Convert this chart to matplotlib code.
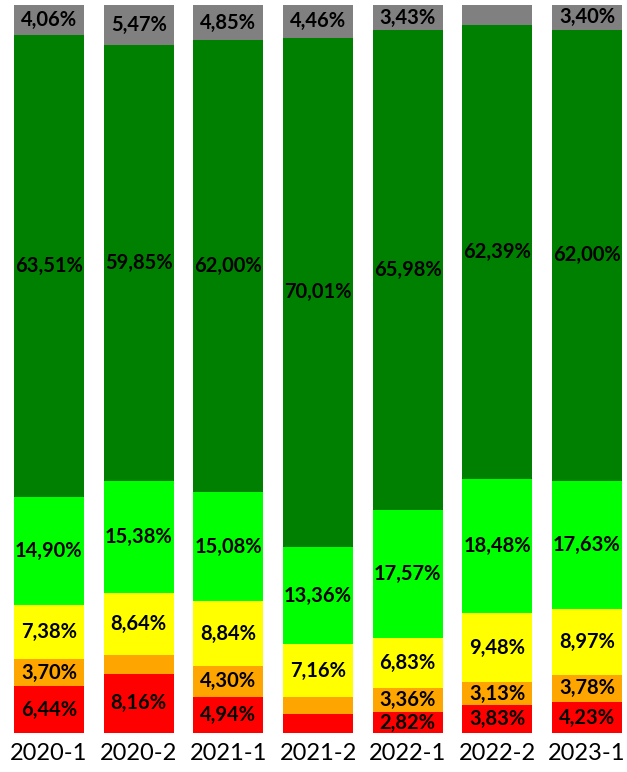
import numpy as np
import matplotlib
matplotlib.use("Agg")
import matplotlib.pyplot as plt

plt.rcParams['font.family'] = ['Lato', 'DejaVu Sans']

periods = ["2020-1", "2020-2", "2021-1", "2021-2", "2022-1", "2022-2", "2023-1"]

# shares per period, bottom to top
red = [6.44, 8.16, 4.94, 2.62, 2.82, 3.83, 4.23]
orange = [3.70, 2.50, 4.30, 2.39, 3.36, 3.13, 3.78]
yellow = [7.38, 8.64, 8.84, 7.16, 6.83, 9.48, 8.97]
lime = [14.90, 15.38, 15.08, 13.36, 17.57, 18.48, 17.63]
darkgreen = [63.51, 59.85, 62.00, 70.01, 65.98, 62.39, 62.00]
gray = [4.06, 5.47, 4.85, 4.46, 3.43, 2.69, 3.40]

series = [red, orange, yellow, lime, darkgreen, gray]
colors = ["#ff0000", "#ffa500", "#ffff00", "#00ff00", "#008000", "#808080"]

fig = plt.figure(figsize=(6.27, 7.72), dpi=100)
ax = fig.add_axes([14/627, 39/772, 608/627, 728/772])

x = np.arange(len(periods))
bottom = np.zeros(len(periods))
for vals, col in zip(series, colors):
    vals = np.array(vals)
    ax.bar(x, vals, 0.78, bottom=bottom, color=col, edgecolor="none")
    for xi, b, v in zip(x, bottom, vals):
        if v < 2.75:
            continue
        lbl = ("%.2f%%" % v).replace(".", ",")
        ax.text(xi, b + v / 2, lbl, ha="center", va="center",
                fontsize=14.5, fontweight="bold", color="black", clip_on=False)
    bottom += vals

ax.set_xlim(-0.39, 6.39)
ax.set_ylim(0, bottom.max())
ax.set_xticks(x)
ax.set_xticklabels(periods, fontsize=17)
ax.tick_params(axis="x", length=0, pad=7)
ax.set_yticks([])
for s in ax.spines.values():
    s.set_visible(False)

fig.savefig("out.png", dpi=100)
